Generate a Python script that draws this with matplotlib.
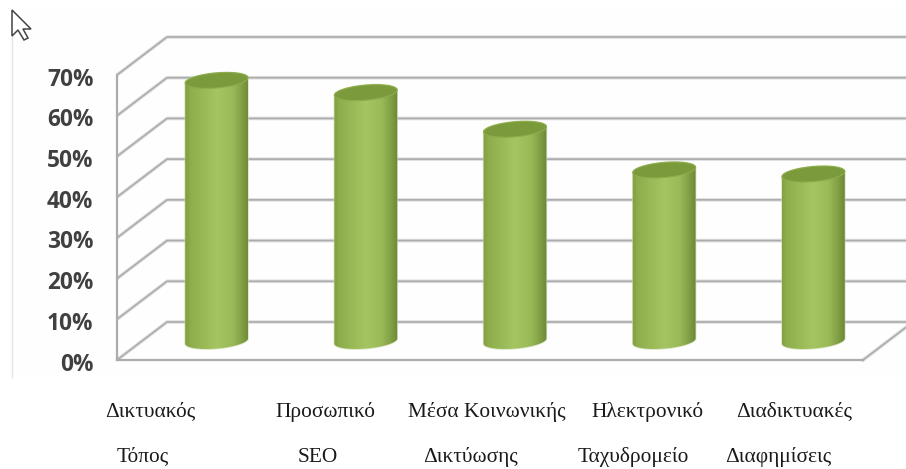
import numpy as np
import matplotlib
matplotlib.use("Agg")
import matplotlib.pyplot as plt
from matplotlib.colors import LinearSegmentedColormap
from matplotlib.patches import Polygon, PathPatch, Rectangle
from matplotlib.path import Path
from matplotlib.transforms import ScaledTranslation

# percent values of the five channels
categories_top = ["Δικτυακός", "Προσωπικό", "Μέσα Κοινωνικής", "Ηλεκτρονικό", "Διαδικτυακές"]
categories_bottom = ["Τόπος", "SEO", "Δικτύωσης", "Ταχυδρομείο", "Διαφημίσεις"]
values = [64, 61, 52, 42, 41]
yticks = [0, 10, 20, 30, 40, 50, 60, 70]

W, H = 906, 469
fig = plt.figure(figsize=(W / 100, H / 100), dpi=100, facecolor="white")

def figx(px):
    return px / W

def figy(py):
    return 1 - py / H

# screenshot panel behind the chart, only its left edge shows
fig.add_artist(Rectangle((figx(11), figy(377)), 1 - figx(11), figy(10) - figy(377),
                         transform=fig.transFigure, facecolor="#fefefe", edgecolor="none", zorder=-2))
fig.add_artist(plt.Line2D([figx(11.5), figx(11.5)], [figy(10), figy(377)], color="#e4e4e4", lw=1, zorder=-1))

# front plane of the 3d box
ax = fig.add_axes([figx(117), figy(360), figx(863) - figx(117), figy(75) - figy(360)])
ax.set_facecolor("none")
ax.set_xlim(-0.5, 4.5)
ax.set_ylim(0, 70)

# size of one pixel in data units
ux = 5 / (863 - 117)
uy = 70 / (360 - 75)
depth_x = 50 * ux
depth_y = 38 * uy
right_edge = -0.5 + (906 - 117) * ux

grid_col = "#acacac"
for t in yticks:
    # shadow line under the darker core
    for lw, col in [(2.6, "#e0e0e0"), (1.2, grid_col)]:
        ax.plot([-0.5, -0.5 + depth_x, right_edge], [t, t + depth_y, t + depth_y],
                color=col, lw=lw, clip_on=False, zorder=1, solid_capstyle="butt")
# right end of the floor
for lw, col in [(2.6, "#e0e0e0"), (1.2, grid_col)]:
    ax.plot([4.5, 4.5 + depth_x], [0, depth_y], color=col, lw=lw, clip_on=False, zorder=1)

for s in ["top", "right"]:
    ax.spines[s].set_visible(False)
for s in ["left", "bottom"]:
    ax.spines[s].set_color(grid_col)
    ax.spines[s].set_linewidth(1.6)

ax.set_xticks([])
ax.set_yticks(yticks)
ax.set_yticklabels([str(t) + "%" for t in yticks], fontfamily="Open Sans", fontweight="bold",
                   fontsize=16.3, color="#404040")
ax.tick_params(axis="y", length=0, pad=17)
shift = ScaledTranslation(0, -1.5 / 100, fig.dpi_scale_trans)
for lbl in ax.get_yticklabels():
    lbl.set_transform(lbl.get_transform() + shift)

bar_cmap = LinearSegmentedColormap.from_list("cyl", [(0, "#7f9c42"), (0.1, "#8ead4c"), (0.5, "#a5c562"),
                                                     (0.74, "#9aba58"), (0.92, "#7b9840"), (1, "#67823a")])
grad = np.linspace(0, 1, 128).reshape(1, -1)

half_w = 31.5
half_h = 7.5
tilt = np.radians(5)

def ellipse(cx, cy, t):
    # tilted ellipse, sizes in pixels, result in data units
    ex = half_w * np.cos(t)
    ey = half_h * np.sin(t)
    dx = ex * np.cos(tilt) - ey * np.sin(tilt)
    dy = ex * np.sin(tilt) + ey * np.cos(tilt)
    return cx + dx * ux, cy + dy * uy

for i, v in enumerate(values):
    cx = i + depth_x / 2
    base = depth_y / 2
    top = v + depth_y / 2

    low_t = np.linspace(np.pi, 2 * np.pi, 40)
    up_t = np.linspace(0, np.pi, 40)
    bx, by = ellipse(cx, base, low_t)
    tx, ty = ellipse(cx, top, up_t)
    body = np.column_stack([np.r_[bx, tx], np.r_[by, ty]])

    # soft light rim around the body
    ax.add_patch(Polygon(body, closed=True, facecolor="none", edgecolor="#c9d9a0", lw=1.2,
                         alpha=0.7, zorder=2, clip_on=False))
    im = ax.imshow(grad, cmap=bar_cmap, aspect="auto", zorder=3,
                   extent=[cx - 33 * ux, cx + 33 * ux, base - 20 * uy, top + 20 * uy])
    im.set_clip_path(PathPatch(Path(body), transform=ax.transData))

    cap_t = np.linspace(0, 2 * np.pi, 80)
    capx, capy = ellipse(cx, top, cap_t)
    ax.add_patch(Polygon(np.column_stack([capx, capy]), closed=True, facecolor="#7a9a3c",
                         edgecolor="#8dac4c", lw=0.8, zorder=4, clip_on=False))

ax.set_xlim(-0.5, 4.5)
ax.set_ylim(0, 70)

# category labels below the chart, written as two separate rows
top_x = [150, 325.5, 486.5, 647.5, 794]
bottom_x = [142.5, 317.5, 470.5, 633, 778]
for lab, px in zip(categories_top, top_x):
    fig.text(figx(px), figy(412), lab, ha="center", va="center", fontfamily="Liberation Serif",
             fontsize=15.4, color="#1a1a1a")
for lab, px in zip(categories_bottom, bottom_x):
    fig.text(figx(px), figy(457), lab, ha="center", va="center", fontfamily="Liberation Serif",
             fontsize=15.4, color="#1a1a1a")

# mouse pointer in the corner
pointer = np.array([[12, 10], [12, 36], [18, 30], [24, 40], [28, 38], [23, 29], [31, 29]], dtype=float)
fig.add_artist(Polygon(np.column_stack([figx(pointer[:, 0]), figy(pointer[:, 1])]), closed=True,
                       transform=fig.transFigure, facecolor="white", edgecolor="#444444", lw=1.1))

fig.savefig("out.png", dpi=100)
